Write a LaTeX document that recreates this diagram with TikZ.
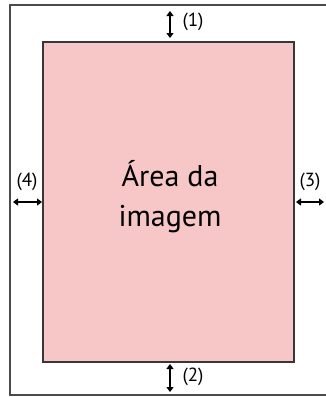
\documentclass[tikz,border=0pt]{standalone}
\usepackage{fontspec}
\setmainfont{PT Sans}
\usetikzlibrary{arrows.meta,positioning}
\definecolor{areaPink}{RGB}{247,198,199}
\definecolor{frameGray}{RGB}{75,75,75}
\definecolor{edgeGray}{RGB}{55,55,55}

\begin{document}
\begin{tikzpicture}[
    x=1pt, y=-1pt,
    frame/.style={draw=frameGray, line width=2pt},
    area/.style={draw=edgeGray, line width=1.5pt, fill=areaPink, minimum width=251pt, minimum height=320pt, inner sep=0pt},
    gap/.style={line width=1.8pt, {Triangle[length=5pt,width=7pt]}-{Triangle[length=5pt,width=7pt]}},
    lbl/.style={inner sep=0pt, font=\fontsize{19}{21}\selectfont},
    title/.style={inner sep=0pt, align=center, font=\fontsize{30}{40}\selectfont}
  ]
  \useasboundingbox (0,0) rectangle (326,397);
  \clip (0,0) rectangle (326,397);
  % outer frame, open to the right
  \draw[frame] (10,5) rectangle (345,395);
  % image area
  \node[area] (area) at (168.5,202) {};
  \node[title] (name) at (170,197) {Área da\\imagem};
  % margins
  \coordinate (t1) at (170,11);
  \coordinate (b1) at (170,38);
  \coordinate (t2) at (170,364);
  \coordinate (b2) at (170,392);
  \coordinate (l4) at (13,202);
  \coordinate (r4) at (42,202);
  \coordinate (l3) at (296,202);
  \coordinate (r3) at (324,202);
  \draw[gap] (t1) -- (b1);
  \draw[gap] (t2) -- (b2);
  \draw[gap] (l4) -- (r4);
  \draw[gap] (l3) -- (r3);
  \node[lbl] (m1) at (193,22) {(1)};
  \node[lbl] (m2) at (193,377) {(2)};
  \node[lbl] (m4) at (27,182) {(4)};
  \node[lbl] (m3) at (310,182) {(3)};
\end{tikzpicture}
\end{document}
